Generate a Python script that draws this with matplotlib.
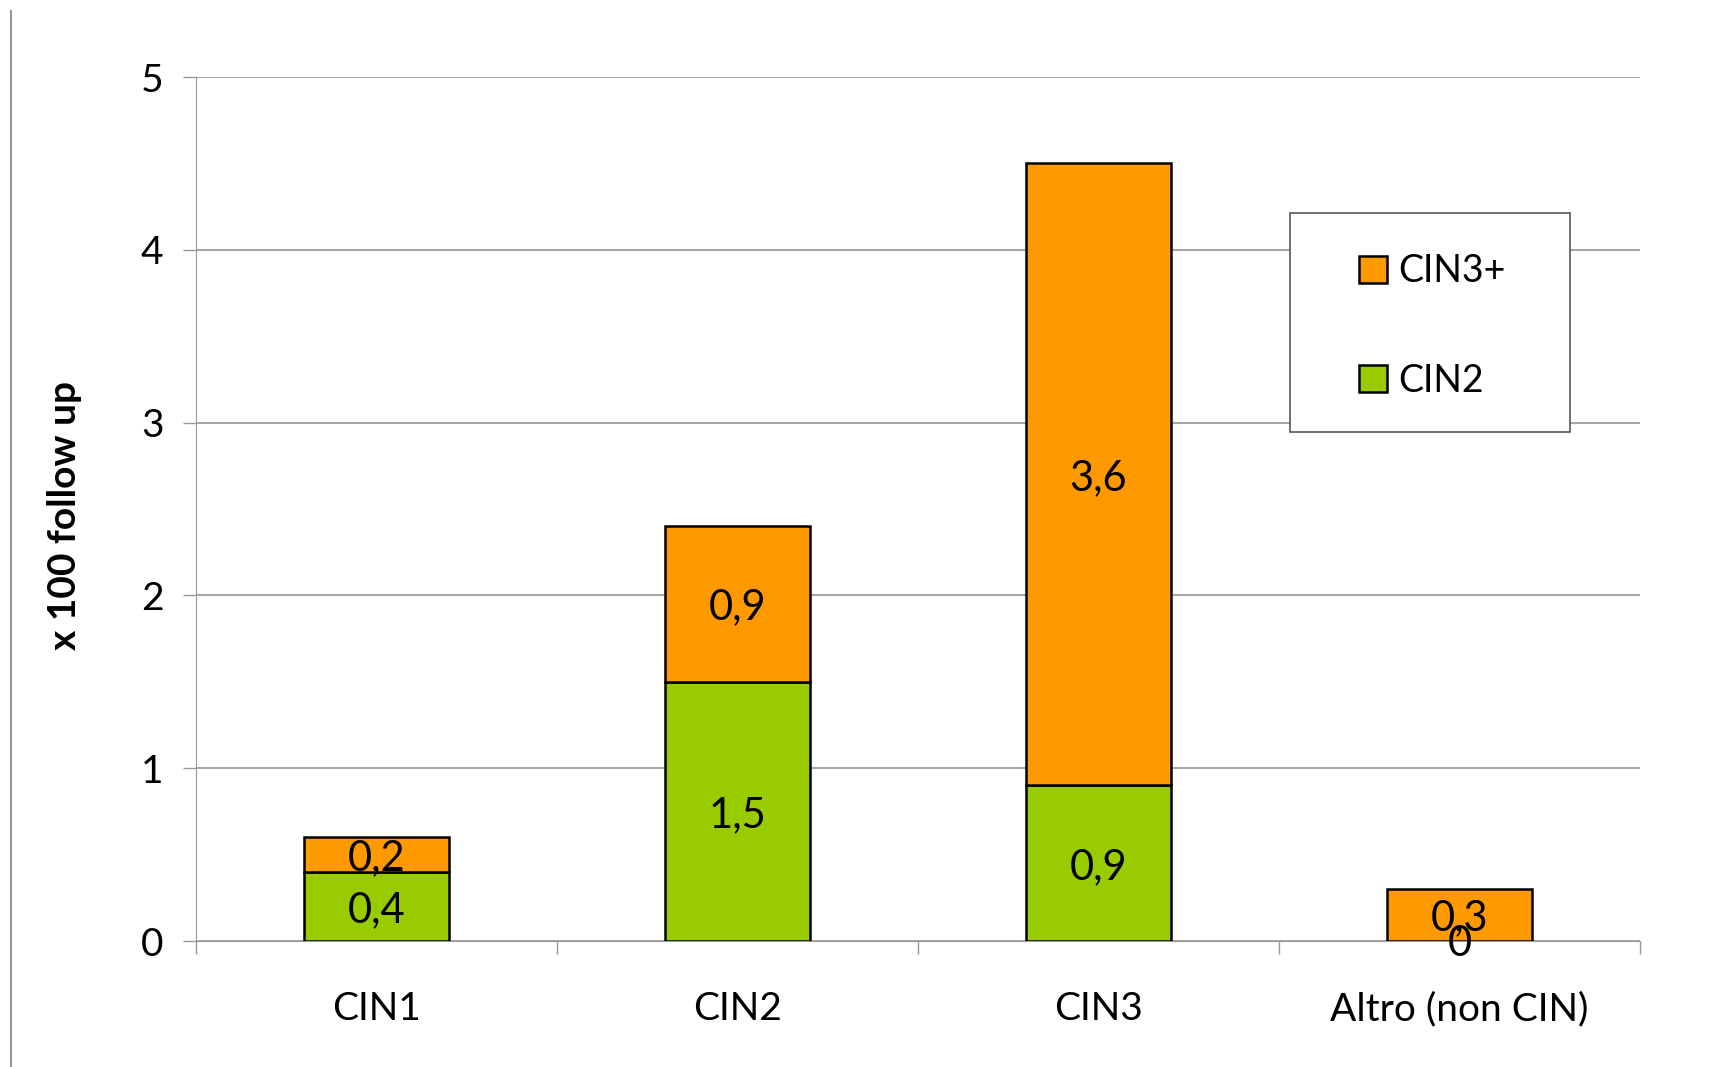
import matplotlib

matplotlib.use("Agg")
import matplotlib.pyplot as plt
from matplotlib.lines import Line2D
from matplotlib.patches import Rectangle

categories = ["CIN1", "CIN2", "CIN3", "Altro (non CIN)"]
cin2 = [0.4, 1.5, 0.9, 0.0]
cin3plus = [0.2, 0.9, 3.6, 0.3]
yticks = [0, 1, 2, 3, 4, 5]

plt.rcParams["font.family"] = ["Lato", "DejaVu Sans"]

W, H = 1719, 1067
fig = plt.figure(figsize=(W / 100, H / 100), dpi=100)
ax = fig.add_axes([196 / W, 1 - 941 / H, (1640 - 196) / W, (941 - 77) / H])

x = list(range(len(categories)))
green, orange = "#99cc00", "#ff9900"
ax.bar(x, cin2, width=0.4, color=green, edgecolor="black", lw=1.8, zorder=3, label="CIN2")
ax.bar(x, cin3plus, width=0.4, bottom=cin2, color=orange, edgecolor="black", lw=1.8,
       zorder=3, label="CIN3+")

fs = 28
lfs = 30
for i in x:
    ax.text(i, cin2[i] / 2, f"{cin2[i]:g}".replace(".", ","), ha="center",
            va="center_baseline", fontsize=lfs, zorder=5)
    ax.text(i, cin2[i] + cin3plus[i] / 2, f"{cin3plus[i]:g}".replace(".", ","),
            ha="center", va="center_baseline", fontsize=lfs, zorder=5)

ax.set_xlim(-0.5, 3.5)
ax.set_ylim(0, 5)
ax.set_yticks(yticks)
ax.set_yticklabels([str(v) for v in yticks], fontsize=fs)
ax.set_xticks(x)
ax.set_xticklabels(categories, fontsize=fs)
ax.set_xticks([-0.5, 0.5, 1.5, 2.5, 3.5], minor=True)
ax.tick_params(axis="x", which="major", length=0, pad=36)
ax.tick_params(axis="x", which="minor", length=9.5, width=1, color="#999999", direction="out")
ax.tick_params(axis="y", which="major", length=9.5, width=1, color="#999999", pad=14)

ax.yaxis.grid(True, color="#8c8c8c", lw=1.1, zorder=0)
for s in ["top", "right"]:
    ax.spines[s].set_visible(False)
ax.spines["left"].set_color("#999999")
ax.spines["bottom"].set_color("#999999")

fig.text(64 / W, 1 - 515 / H, "x 100 follow up", rotation=90, ha="center", va="center",
         fontsize=28, fontweight="bold")

# legend box
fig.add_artist(Rectangle((1290 / W, 1 - 432 / H), 280 / W, 219 / H, transform=fig.transFigure,
                         facecolor="white", edgecolor="#555555", lw=1.2, zorder=6))
h, l = ax.get_legend_handles_labels()
leg = fig.legend(h[::-1], l[::-1], loc="center", bbox_to_anchor=(1432 / W, 1 - 326 / H),
                 frameon=False, fontsize=27, handlelength=0.75, handleheight=0.75,
                 labelspacing=1.95, handletextpad=0.3)
leg.set_zorder(7)

# left border line
fig.add_artist(Line2D([11 / W, 11 / W], [0, 1 - 11 / H], transform=fig.transFigure,
                      color="#999999", lw=1.5))

fig.savefig("out.png", dpi=100)
